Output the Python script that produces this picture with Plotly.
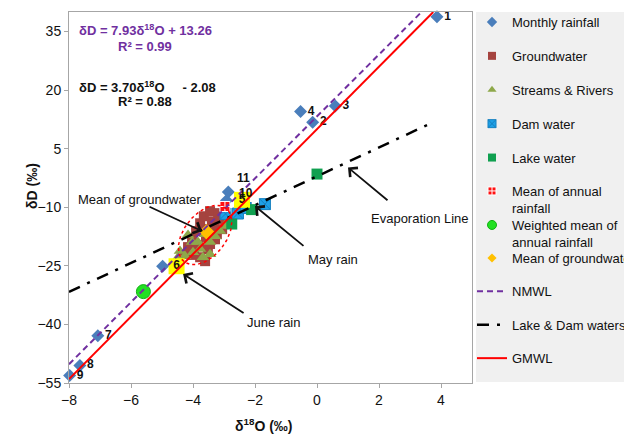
import numpy as np
import plotly.graph_objects as go

FONT = "Liberation Sans, Arial, sans-serif"

# ---------------- data ----------------
monthly_x = [3.87, -0.14, 0.59, -0.53, -2.42, -4.53, -7.07, -7.65, -7.98, -2.92, -2.86, -4.98]
monthly_y = [38.8, 11.8, 15.9, 14.5, -8.1, -25.1, -42.9, -50.5, -53.1, -8.3, -6.1, -25.1]
monthly_lbl = ["1", "2", "3", "4", "", "", "7", "8", "9", "", "", ""]
monthly_pos = "middle right"
# labels drawn as annotations (index, text, x shift px, y shift px)
monthly_extra_lbl = [(9, "10", 20, 8), (10, "11", 15, 14)]

gw_x = [-4.16, -4.03, -3.90, -3.77, -3.65, -3.45, -3.19, -2.94, -3.06, -3.29, -3.52, -3.77,
        -4.03, -4.26, -3.84, -3.58, -3.32, -3.13, -3.68, -3.39, -3.97, -3.45, -3.61, -3.23]
gw_y = [-20.2, -18.2, -16.1, -14.1, -12.3, -11.0, -11.5, -13.0, -15.6, -18.2, -20.7, -22.8,
        -22.2, -22.0, -19.7, -17.6, -15.1, -13.0, -15.6, -13.6, -20.7, -19.4, -23.8, -16.9]

st_x = [-4.42, -4.26, -4.00, -3.77, -3.45, -3.29, -3.13, -2.90, -2.87, -3.45, -3.68, -3.84,
        -3.61, -4.03, -4.16, -4.48]
st_y = [-21.2, -22.5, -21.5, -20.7, -18.9, -17.4, -16.1, -14.8, -13.6, -22.0, -22.8, -18.9,
        -16.9, -18.9, -17.1, -22.8]

dam_x = [-1.68, -2.55, -2.95, -2.30]
dam_y = [-9.2, -11.6, -11.7, -10.2]

lake_x = [0.0, -2.11, -2.75]
lake_y = [-1.5, -10.6, -14.3]

mean_rain_x = [-2.97]
mean_rain_y = [-9.8]

wmean_x = [-5.6]
wmean_y = [-31.6]

mean_gw_x = [-3.56]
mean_gw_y = [-16.3]

# May (5) and June (6) highlighted rainfall
hl_x = [-2.42, -4.53]
hl_y = [-8.1, -25.1]
hl_lbl = ["5", "6"]

# regression lines: slope, intercept, x-extent
nmwl = dict(slope=7.93, icpt=13.26, x=[-8.0, 3.4])
evap = dict(slope=3.70, icpt=-2.08, x=[-8.0, 3.65])
gmwl = dict(slope=8.0, icpt=10.0, x=[-8.0, 3.75])

# ellipse around groundwater cluster (center in data units, axes in px)
ell_center = (-3.61, -17.1)
ell_axes_px = (34, 21)
ell_angle_deg = 52
PX_PER_X = 31.0
PX_PER_Y = 3.913

xtick_vals = [-8, -6, -4, -2, 0, 2, 4]
ytick_vals = [-55, -40, -25, -10, 5, 20, 35]

# ---------------- figure ----------------
fig = go.Figure()

def line_y(d):
    return [d["slope"] * v + d["icpt"] for v in d["x"]]

# legend-only entries (small symbols like the reference legend)
def leg(name, rank, legend, **kw):
    fig.add_trace(go.Scatter(x=[None], y=[None], name=name, legendrank=rank,
                             legendgroup="g%d" % rank, legend=legend, **kw))

fig.add_trace(go.Scatter(x=monthly_x, y=monthly_y, mode="markers+text", showlegend=False,
                         text=monthly_lbl, textposition=monthly_pos, cliponaxis=False,
                         textfont=dict(size=12, color="#111", family=FONT, weight="bold"),
                         marker=dict(symbol="diamond", size=10, color="#4A7EBB")))
fig.add_trace(go.Scatter(x=gw_x, y=gw_y, mode="markers", showlegend=False,
                         marker=dict(symbol="square", size=10, color="#A5433F")))
fig.add_trace(go.Scatter(x=st_x, y=st_y, mode="markers", showlegend=False,
                         marker=dict(symbol="triangle-up", size=11, color="#8EA84A")))
fig.add_trace(go.Scatter(x=dam_x, y=dam_y, mode="markers", showlegend=False,
                         marker=dict(symbol="square-x", size=11, color="#1EA0E6",
                                     line=dict(color="#1580C0", width=1))))
fig.add_trace(go.Scatter(x=lake_x, y=lake_y, mode="markers", showlegend=False,
                         marker=dict(symbol="square", size=11, color="#10A050")))
fig.add_trace(go.Scatter(x=mean_rain_x, y=mean_rain_y, mode="markers", showlegend=False,
                         marker=dict(symbol="square-cross", size=10, color="#FF1010",
                                     line=dict(color="white", width=1))))
fig.add_trace(go.Scatter(x=wmean_x, y=wmean_y, mode="markers", showlegend=False,
                         marker=dict(symbol="circle", size=14, color="#22E022",
                                     line=dict(color="#10B010", width=1))))
fig.add_trace(go.Scatter(x=hl_x, y=hl_y, mode="markers+text", showlegend=False,
                         text=hl_lbl, textposition="middle center",
                         textfont=dict(size=12, color="#111", family=FONT, weight="bold"),
                         marker=dict(symbol="square", size=16, color="#FFFF00")))
fig.add_trace(go.Scatter(x=mean_gw_x, y=mean_gw_y, mode="markers", showlegend=False,
                         marker=dict(symbol="diamond", size=12, color="#FFC000")))

fig.add_trace(go.Scatter(x=nmwl["x"], y=line_y(nmwl), mode="lines", name="NMWL",
                         line=dict(color="#7030A0", width=2, dash="6px,4px"),
                         legendgroup="g9", legendrank=9, legend="legend4"))
fig.add_trace(go.Scatter(x=evap["x"], y=line_y(evap), mode="lines", name="Lake & Dam waters",
                         line=dict(color="black", width=2.5, dash="12px,8px,3px,8px"),
                         legendgroup="g10", legendrank=10, legend="legend4"))
fig.add_trace(go.Scatter(x=gmwl["x"], y=line_y(gmwl), mode="lines", name="GMWL",
                         line=dict(color="#FF0000", width=2),
                         legendgroup="g11", legendrank=11, legend="legend4"))

# ellipse
t = np.linspace(0, 2 * np.pi, 121)
a, b = ell_axes_px
th = np.deg2rad(ell_angle_deg)
dx_px = a * np.cos(t) * np.cos(th) - b * np.sin(t) * np.sin(th)
dy_px = a * np.cos(t) * np.sin(th) + b * np.sin(t) * np.cos(th)
fig.add_trace(go.Scatter(x=ell_center[0] + dx_px / PX_PER_X, y=ell_center[1] + dy_px / PX_PER_Y,
                         mode="lines", showlegend=False, hoverinfo="skip",
                         line=dict(color="#FF0000", width=1.5, dash="dot")))

leg("Monthly rainfall", 1, "legend", mode="markers",
    marker=dict(symbol="diamond", size=8, color="#4A7EBB"))
leg("Groundwater", 2, "legend", mode="markers", marker=dict(symbol="square", size=8, color="#A5433F"))
leg("Streams & Rivers", 3, "legend", mode="markers",
    marker=dict(symbol="triangle-up", size=8, color="#8EA84A"))
leg("Dam water", 4, "legend", mode="markers", marker=dict(symbol="square-x", size=8, color="#1EA0E6",
                                                          line=dict(color="#1580C0", width=1)))
leg("Lake water", 5, "legend", mode="markers", marker=dict(symbol="square", size=8, color="#10A050"))
leg("Mean of annual<br>rainfall", 6, "legend2", mode="markers",
    marker=dict(symbol="square-cross", size=8, color="#FF1010", line=dict(color="white", width=1)))
leg("Weighted mean of<br>annual rainfall", 7, "legend3", mode="markers",
    marker=dict(symbol="circle", size=9, color="#22E022", line=dict(color="#10B010", width=1)))
leg("Mean of groundwater", 8, "legend4", mode="markers",
    marker=dict(symbol="diamond", size=7, color="#FFC000"))

# ---------------- annotations ----------------
ann = []
txt = dict(family=FONT, size=13, color="#111")
# equations
ann.append(dict(x=-7.74, y=35.3, xanchor="left", text="<b>δD = 7.93δ<sup>18</sup>O + 13.26</b>",
                showarrow=False, font=dict(family=FONT, size=13, color="#7030A0")))
ann.append(dict(x=-5.55, y=31.1, xanchor="center", text="<b>R² = 0.99</b>",
                showarrow=False, font=dict(family=FONT, size=13, color="#7030A0")))
ann.append(dict(x=-7.74, y=20.9, xanchor="left",
                text="<b>δD = 3.70δ<sup>18</sup>O\u00a0\u00a0\u00a0\u00a0 - 2.08</b>",
                showarrow=False, font=dict(family=FONT, size=13, color="#111")))
ann.append(dict(x=-5.55, y=17.1, xanchor="center", text="<b>R² = 0.88</b>",
                showarrow=False, font=dict(family=FONT, size=13, color="#111")))
# point labels 10 and 11
for idx, lbl, xs, ys in monthly_extra_lbl:
    ann.append(dict(x=monthly_x[idx], y=monthly_y[idx], xshift=xs, yshift=ys, text="<b>%s</b>" % lbl,
                    showarrow=False, font=dict(family=FONT, size=12, color="#111")))
# callout texts
ann.append(dict(x=-5.71, y=-7.9, text="Mean of groundwater", showarrow=False, font=txt))
ann.append(dict(x=0.52, y=-23.3, text="May rain", showarrow=False, font=txt))
ann.append(dict(x=3.32, y=-12.8, text="Evaporation Line", showarrow=False, font=txt))
ann.append(dict(x=-1.39, y=-39.4, text="June rain", showarrow=False, font=txt))
# arrows
arr = dict(text="", showarrow=True, arrowhead=4, arrowsize=1.3, arrowwidth=1.8, arrowcolor="#111",
           axref="pixel", ayref="pixel")
ann.append(dict(arr, x=-3.71, y=-16.1, ax=-54, ay=-25))
ann.append(dict(arr, x=-2.0, y=-9.7, ax=50, ay=41))
ann.append(dict(arr, x=1.0, y=0.2, ax=41, ay=34))
ann.append(dict(arr, x=-4.32, y=-27.1, ax=62, ay=40))
# axis titles
ann.append(dict(xref="paper", yref="paper", x=-0.092, y=0.531, xanchor="center", yanchor="middle",
                textangle=-90, showarrow=False,
                text="<b>δD (‰)</b>", font=dict(family=FONT, size=14, color="#111")))
ann.append(dict(xref="paper", yref="paper", x=0.484, y=-0.113, xanchor="center", yanchor="middle",
                showarrow=False,
                text="<b>δ<sup>18</sup>O (‰)</b>", font=dict(family=FONT, size=14, color="#111")))

PLOT_TOP, PLOT_H = 12, 371


def leg_y(first_center_px):
    top = first_center_px - 15
    return (PLOT_TOP + PLOT_H - top) / PLOT_H


leg_common = dict(x=1.0, xanchor="left", yanchor="top", bgcolor="rgba(0,0,0,0)",
                  font=dict(family=FONT, size=13, color="#111"), itemwidth=30, valign="top")

fig.update_layout(
    width=624, height=435,
    margin=dict(l=69, r=152, t=12, b=52, autoexpand=False),
    paper_bgcolor="white", plot_bgcolor="white",
    font=dict(family=FONT, size=13, color="#111"),
    annotations=ann,
    showlegend=True,
    legend=dict(leg_common, y=leg_y(22), tracegroupgap=14),
    legend2=dict(leg_common, y=leg_y(191), tracegroupgap=14),
    legend3=dict(leg_common, y=leg_y(225), tracegroupgap=14),
    legend4=dict(leg_common, y=leg_y(258), tracegroupgap=13.5),
    shapes=[dict(type="rect", xref="paper", yref="paper", x0=1.0099, x1=1.38, y0=0.003, y1=1.0,
                 fillcolor="#F0F0F0", line=dict(width=0), layer="below")],
    xaxis=dict(range=[-8, 5], tickmode="array", tickvals=xtick_vals, showgrid=False, zeroline=False,
               showline=True, linecolor="#A6A6A6", linewidth=1, mirror=True, automargin=False,
               ticks="outside", ticklen=4, tickcolor="#A6A6A6",
               tickfont=dict(family=FONT, size=14, color="#111")),
    yaxis=dict(range=[-55, 40], tickmode="array", tickvals=ytick_vals, showgrid=False, zeroline=False,
               showline=True, linecolor="#A6A6A6", linewidth=1, mirror=True, automargin=False,
               ticks="outside", ticklen=4, tickcolor="#A6A6A6",
               tickfont=dict(family=FONT, size=14, color="#111")),
)

fig.write_html("out.html", config={"displayModeBar": False},
               post_script="document.body.style.margin='0';")
